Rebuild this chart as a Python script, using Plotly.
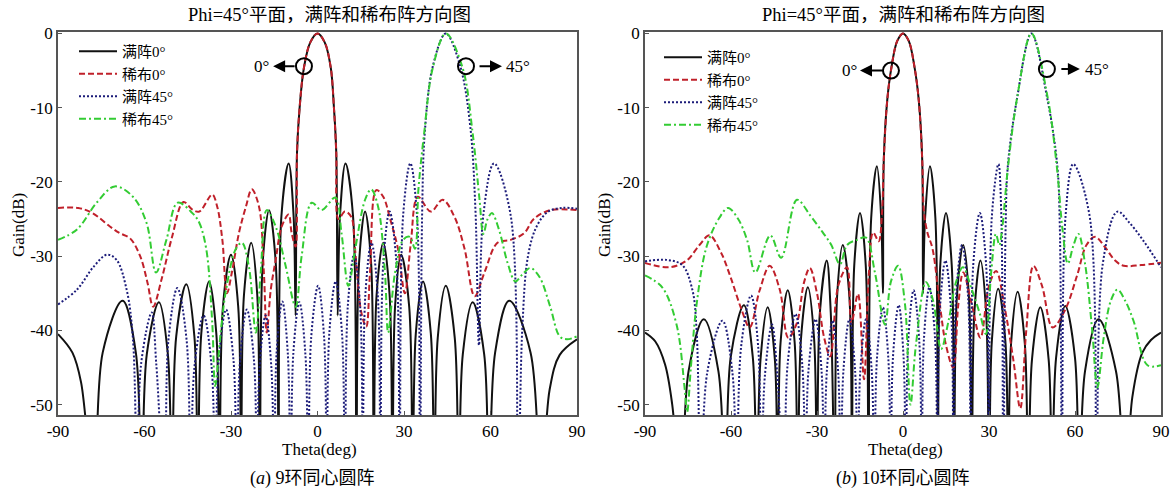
import plotly.graph_objects as go

theta_ticks = [-90, -60, -30, 0, 30, 60, 90]
theta_tick_labels = ["-90", "-60", "-30", "0", "30", "60", "90"]
gain_ticks = [0, -10, -20, -30, -40, -50]
gain_tick_labels = ["0", "-10", "-20", "-30", "-40", "-50"]
series_names = ["满阵0°", "稀布0°", "满阵45°", "稀布45°"]
panel_titles = ["Phi=45°平面，满阵和稀布阵方向图", "Phi=45°平面，满阵和稀布阵方向图"]
panel_captions = ["(<i>a</i>) 9环同心圆阵", "(<i>b</i>) 10环同心圆阵"]

# ---------- (a) 9-ring array: (theta deg, gain dB) ----------
a_full0 = [(-90, -40.5), (-85, -43), (-82, -47), (-77.5, -62), (-74.5, -43), (-67.6, -36), (-63, -43),
           (-61, -62), (-59.2, -43.2), (-55, -36.2), (-51.9, -43.2), (-50.5, -62), (-49, -40.8), (-45.5, -33.8),
           (-42.7, -40.8), (-41.5, -62), (-40.3, -40.4), (-37.6, -33.4), (-35.1, -40.4), (-34, -62), (-32.8, -36.8),
           (-30, -29.8), (-27.5, -36.8), (-26.5, -62), (-25.5, -35.2), (-23, -28.2), (-20.9, -35.2), (-20, -62),
           (-19, -30.8), (-16.8, -23.8), (-14.5, -30.8), (-13.5, -62), (-12.5, -24.5), (-10, -17.5), (-8.3, -24.5),
           (-7.6, -38), (-7.1, -16), (-6.2, -10), (-4.7, -4.6), (-2.5, -1.2), (0, 0), (2.5, -1.2), (4.6, -4.6),
           (5.7, -10), (6.5, -16), (7, -38), (7.8, -24.5), (9.7, -17.5), (12.3, -24.5), (13.5, -62), (14.4, -31),
           (16.5, -24), (18.6, -31), (19.5, -62), (20.5, -35.2), (22.8, -28.2), (25, -35.2), (26, -62), (26.9, -36.8),
           (29, -29.8), (31.8, -36.8), (33, -62), (34.1, -40.4), (36.6, -33.4), (39.3, -40.4), (40.5, -62),
           (41.7, -41), (44.5, -34), (47.6, -41), (49, -62), (50.4, -43.2), (53.8, -36.2), (57.8, -43.2),
           (59.5, -62), (61.6, -43), (66.5, -36), (73.9, -43), (77.5, -62), (80.5, -48), (84, -43.3), (90, -41.2)]

a_sparse0 = [(-90, -23.5), (-83, -23.5), (-78, -24.2), (-72, -26), (-68.6, -26.9), (-65, -27.6), (-61.5, -30),
             (-59, -33.5), (-57, -36.8), (-54, -33), (-50.5, -27.5), (-46.5, -22.7), (-43.5, -23.7), (-41, -24),
             (-36.5, -21.7), (-34.8, -23.3), (-33, -27.8), (-31.4, -35), (-29.7, -32.2), (-27.2, -26.8),
             (-24.8, -23.3), (-22.8, -21), (-20.3, -23.3), (-18.6, -32.2), (-17.6, -40.3), (-16.2, -34.5),
             (-14.5, -30.5), (-12.4, -26), (-10, -24.4), (-9, -26.8), (-7.6, -28.7), (-7.1, -16), (-6.2, -10),
             (-4.7, -4.6), (-2.5, -1.2), (0, 0), (2.5, -1.2), (4.6, -4.6), (5.7, -10), (6.5, -16), (7.3, -25),
             (9.5, -24), (11.7, -24.7), (13, -29), (15.2, -37.6), (16.9, -39.5), (18.2, -32.2), (20.4, -21.1),
             (22.8, -22), (25.2, -25), (27.9, -29), (30.3, -35), (32.3, -28.5), (34.8, -22), (39.3, -24),
             (43.4, -22.4), (47.5, -24.7), (51, -29), (54.5, -35.4), (57.9, -32.2), (62.4, -28.2), (67, -27.8),
             (71.7, -26.9), (75, -25), (80.7, -23.8), (90, -23.8)]

a_full45 = [(-90, -36.5), (-83.4, -34.5), (-77.6, -31.4), (-73, -29.8), (-69.7, -30.5), (-66.2, -34.5), (-64, -41.2),
            (-62.5, -62), (-61.2, -44.6), (-57.5, -37.6), (-55.9, -44.6), (-53, -62), (-51.7, -41.3), (-48.6, -34.3),
            (-45.4, -41.3), (-44, -62), (-42.7, -45), (-39.5, -38), (-36.7, -45), (-35.5, -62), (-34.3, -44.2),
            (-31.7, -37.2), (-29.1, -44.2), (-28, -62), (-26.9, -44.2), (-24.5, -37.2), (-22, -44.2), (-21, -62),
            (-20.1, -45), (-18, -38), (-16, -45), (-15, -62), (-14.2, -43.1), (-12.2, -36.1), (-10.3, -43.1),
            (-9.3, -62), (-8.4, -43.2), (-6.3, -36.2), (-4.2, -43.2), (-3.2, -62), (-2.2, -41), (0.2, -34),
            (2.3, -41), (3.2, -62), (4.1, -40.4), (6.3, -33.4), (8.5, -40.4), (9.5, -62), (10.5, -36.8),
            (12.7, -29.8), (14.8, -36.8), (15.7, -62), (16.6, -35.2), (18.7, -28.2), (20.9, -35.2), (21.8, -62),
            (22.8, -31), (25, -24), (27.4, -31), (28.5, -62), (29.7, -24.5), (32.2, -17.5), (34.5, -24.5),
            (35.5, -62), (36.3, -24), (37.2, -13.4), (40, -4.4), (44.5, 0), (49.5, -4.4), (53, -12.6), (54.8, -24),
            (56, -42), (57.5, -24.5), (61.2, -17.5), (67, -24.5), (69.5, -62), (71, -40), (73, -30), (76, -26),
            (80, -24), (85, -23.5), (90, -23.6)]

a_sparse45 = [(-90, -27.8), (-83.4, -26.4), (-76.6, -22.8), (-70.3, -20.6), (-64, -22), (-59.3, -25.5), (-56, -32.2),
              (-52.4, -27.8), (-48.5, -22.8), (-43.4, -24.2), (-41, -25.5), (-38.6, -29), (-36.5, -39),
              (-35.5, -47.5), (-33.5, -40), (-31.7, -34.5), (-28.3, -29), (-26.2, -28.2), (-23.8, -31.4),
              (-21.4, -40.3), (-19.7, -32.2), (-17.6, -23.8), (-14.5, -26), (-11, -31.4), (-7.6, -36.8),
              (-5.5, -30), (-2, -22.8), (1.4, -23.8), (6.2, -22.1), (8.3, -26.8), (10.7, -34), (13.1, -29),
              (16.5, -22.4), (18.6, -21), (21, -23.3), (23.4, -32.2), (24.5, -40.3), (26.9, -32.2), (29.7, -27.8),
              (32, -27.4), (33.8, -29), (35, -21), (37, -13.4), (40, -4.6), (44.5, 0), (50.3, -4.6), (53.8, -13.4),
              (56.2, -22.4), (57.5, -27), (59, -25), (60.5, -24.2), (63, -26.5), (66, -31), (68.6, -33.4),
              (71, -32.5), (73.8, -31.6), (77, -32.8), (80.7, -36.8), (84, -40.8), (86.5, -41.2), (90, -40.8)]

# ---------- (b) 10-ring array ----------
b_full0 = [(-90, -40.3), (-86.4, -41.5), (-83, -44.6), (-80.5, -50), (-77.5, -62), (-74.8, -45.5), (-69.5, -38.5),
           (-64.4, -45.5), (-62, -62), (-60.1, -43.6), (-55.5, -36.6), (-52.4, -43.6), (-51, -62), (-49.7, -43.9),
           (-47.2, -36.9), (-44.7, -43.9), (-43.7, -62), (-42.7, -41.6), (-40.2, -34.6), (-37.8, -41.6),
           (-36.7, -62), (-35.6, -41.2), (-33.2, -34.2), (-31, -41.2), (-30, -62), (-29, -37.6), (-26.6, -30.6),
           (-25.2, -37.6), (-23.8, -62), (-23, -35.5), (-21, -28.5), (-18.7, -35.5), (-17.8, -62), (-17, -31.2),
           (-15, -24.2), (-13, -31.2), (-12, -62), (-11.1, -24.9), (-9.1, -17.9), (-7.6, -24.9), (-7, -35),
           (-6.7, -17), (-5.5, -9), (-4, -4.5), (-2, -1), (0, 0), (2, -1), (4, -4.5), (5.5, -9), (6.7, -17),
           (7, -35), (7.7, -24.9), (9.4, -17.9), (11.3, -24.9), (12.2, -62), (13, -31.2), (15, -24.2), (17, -31.2),
           (17.8, -62), (18.8, -35.5), (21, -28.5), (23, -35.5), (24, -62), (24.9, -37.6), (27, -30.6),
           (29, -37.6), (30, -62), (31, -41.4), (33.2, -34.4), (35.7, -41.4), (36.7, -62), (37.7, -41.8),
           (40, -34.8), (42.5, -41.8), (43.7, -62), (45, -43.9), (47.9, -36.9), (50.8, -43.9), (52, -62),
           (53.4, -43.7), (56.6, -36.7), (60, -43.7), (61.5, -62), (63.5, -45.5), (68.2, -38.5), (74.3, -45.5),
           (77.5, -62), (80, -49), (83.5, -43), (86.5, -41.3), (90, -40.3)]

b_sparse0 = [(-90, -30.9), (-81.5, -31.5), (-75.5, -30.6), (-71, -28.5), (-67.5, -27.2), (-63.5, -29.5),
             (-60, -33), (-56.5, -37), (-53.5, -39.6), (-50, -34.6), (-46.5, -31.3), (-43, -34.5), (-40, -41),
             (-37, -39), (-34.5, -33.5), (-32.5, -31.6), (-30, -35), (-27.5, -41), (-25.4, -43.5), (-22.6, -34),
             (-19.5, -31.5), (-18, -39), (-15.7, -35.1), (-13.6, -46.6), (-12, -33), (-10.4, -26.8), (-8.5, -28),
             (-7.3, -24), (-6.7, -17), (-5.5, -9), (-4, -4.5), (-2, -1), (0, 0), (2, -1), (4, -4.5), (5.5, -9),
             (6.7, -17), (7.3, -24), (8.5, -26.8), (10.3, -29), (12.9, -36.7), (15, -42), (17.5, -45),
             (19.3, -36.5), (21, -32.2), (24, -36.5), (27, -41), (30, -34), (32.5, -32), (35.5, -37), (38.5, -44),
             (40.9, -50.5), (43, -40), (45.5, -31.3), (48.5, -34), (52.2, -39.6), (56.6, -37.2), (60.8, -32.5),
             (64, -28.5), (67, -27.4), (70.5, -28.8), (74, -30.6), (77, -31.3), (83, -31.2), (90, -30.9)]

b_full45 = [(-90, -30.7), (-82.5, -30.5), (-77, -31.2), (-73.5, -34.5), (-72, -40), (-70.5, -62), (-68.3, -45.7),
            (-63, -38.7), (-59.5, -45.7), (-58, -62), (-56.5, -42.3), (-53, -35.3), (-50.5, -42.3), (-49.5, -62),
            (-48.2, -46.2), (-45.7, -39.2), (-43.8, -46.2), (-41.5, -62), (-40.3, -44.8), (-37.5, -37.8),
            (-35.1, -44.8), (-34, -62), (-33, -45.5), (-30.5, -38.5), (-28.4, -45.5), (-27.5, -62),
            (-26.6, -45.7), (-24.6, -38.7), (-22.6, -45.7), (-21.7, -62), (-20.8, -45.5), (-18.7, -38.5),
            (-16.7, -45.5), (-15.8, -62), (-14.9, -45.5), (-12.9, -38.5), (-10.9, -45.5), (-10, -62),
            (-9.1, -43.9), (-7, -36.9), (-5.1, -43.9), (-4.3, -62), (-3.5, -43.6), (-1.5, -36.6), (0.2, -43.6),
            (1, -62), (1.8, -41.6), (3.7, -34.6), (5.7, -41.6), (6.5, -62), (7.3, -41.2), (9.2, -34.2),
            (11.2, -41.2), (12, -62), (12.8, -37.6), (14.8, -30.6), (16.8, -37.6), (17.6, -62), (18.5, -35.5),
            (20.6, -28.5), (22.7, -35.5), (23.6, -62), (24.5, -31.2), (26.8, -24.2), (29, -31.2), (30, -62),
            (31, -24.6), (33.3, -17.6), (34.3, -24.6), (35, -62), (35.8, -26), (36.6, -17.7), (39.8, -8.7),
            (44.8, 0), (50.3, -8.7), (53.8, -17.7), (54.7, -26), (55.5, -62), (56.7, -24.6), (59.4, -17.6),
            (65.1, -24.6), (67.5, -62), (69.7, -31), (74.8, -24), (79, -25.5), (84, -28), (90, -31.5)]

b_sparse45 = [(-90, -32.6), (-84, -34.2), (-79, -39.2), (-76.2, -47.7), (-75.3, -51), (-74, -45), (-72, -36.5),
              (-68.5, -28.7), (-64, -24.8), (-61, -23.5), (-57.5, -25), (-54.4, -27.8), (-51.5, -32.2),
              (-46.3, -27.2), (-42.5, -30.2), (-37, -22.4), (-32.4, -24.5), (-28, -26.8), (-25, -28.5),
              (-22, -31.1), (-19.5, -28.5), (-16, -27.8), (-12.9, -27.5), (-9.8, -32.2), (-6.3, -39.2),
              (-4.2, -33.4), (-1.7, -31.3), (0.7, -36.5), (2.6, -50), (4.5, -42), (8, -33.5), (10.5, -36),
              (13.3, -42.5), (16, -38.5), (18.5, -33.5), (20.9, -31.5), (24, -34.5), (27, -38), (28.9, -40.5),
              (30.8, -32), (32.4, -27), (33.6, -28.5), (34.5, -26.6), (36.7, -17.7), (39.8, -8.7), (44.8, 0),
              (50.5, -8.7), (53.6, -17.7), (55.7, -26.6), (57.5, -31), (59.5, -28.5), (61.2, -27), (63.5, -31),
              (66, -40), (67.8, -47.7), (70, -41), (72.5, -36), (74.8, -34.5), (77.5, -36), (80.4, -38.7),
              (85.3, -44.7), (90, -44.7)]

series_colors = ["#111111", "#c0202a", "#1c1c7a", "#33cc33"]
series_dash = ["solid", "6px,3px", "2px,2px", "7px,3px,2px,3px"]

SERIF = "Liberation Serif, Noto Sans CJK SC, serif"
W, H = 1173, 495

fig = go.Figure()
panels = [
    ([a_full0, a_sparse0, a_full45, a_sparse45], "x", "y", "legend"),
    ([b_full0, b_sparse0, b_full45, b_sparse45], "x2", "y2", "legend2"),
]
for series, xa, ya, lg in panels:
    for name, pts, col, dash in zip(series_names, series, series_colors, series_dash):
        fig.add_trace(go.Scatter(
            x=[p[0] for p in pts], y=[p[1] for p in pts], name=name, mode="lines",
            line=dict(color=col, width=2, dash=dash, shape="spline", smoothing=1),
            xaxis=xa, yaxis=ya, legend=lg, cliponaxis=True))

# pixel layout
y_top, y_bot = 32, 415
dom_y = [1 - y_bot / H, 1 - y_top / H]
ax_common = dict(showline=True, mirror=True, linecolor="#555555", linewidth=1.5, showgrid=False,
                 zeroline=False, ticks="inside", ticklen=4, tickcolor="#555555", automargin=False,
                 tickfont=dict(family=SERIF, size=17, color="black"))
fig.update_layout(
    width=W, height=H, margin=dict(l=0, r=0, t=0, b=0, autoexpand=False),
    paper_bgcolor="white", plot_bgcolor="white",
    xaxis=dict(domain=[58 / W, 577 / W], range=[-90, 90], tickvals=theta_ticks, ticktext=theta_tick_labels,
               anchor="y", **ax_common),
    yaxis=dict(domain=dom_y, range=[-51.4, 0.2], tickvals=gain_ticks, ticktext=gain_tick_labels,
               anchor="x", **ax_common),
    xaxis2=dict(domain=[645 / W, 1161 / W], range=[-90, 90], tickvals=theta_ticks, ticktext=theta_tick_labels,
                anchor="y2", **ax_common),
    yaxis2=dict(domain=dom_y, range=[-51.4, 0.2], tickvals=gain_ticks, ticktext=gain_tick_labels,
                anchor="x2", **ax_common),
    legend=dict(x=74 / W, y=1 - 35 / H, xanchor="left", yanchor="top", bgcolor="rgba(0,0,0,0)",
                font=dict(family=SERIF, size=15, color="black"), itemwidth=38, tracegroupgap=0),
    legend2=dict(x=659 / W, y=1 - 41 / H, xanchor="left", yanchor="top", bgcolor="rgba(0,0,0,0)",
                 font=dict(family=SERIF, size=15, color="black"), itemwidth=38, tracegroupgap=0),
    showlegend=True,
)

ann = []
for i in range(2):
    ann.append(dict(text=panel_titles[i], x=[329, 903][i] / W, y=1 - 15 / H, xref="paper", yref="paper",
                    xanchor="center", yanchor="middle", showarrow=False,
                    font=dict(family=SERIF, size=18.5, color="black")))
    ann.append(dict(text="Theta(deg)", x=[319, 905][i] / W, y=1 - 449 / H, xref="paper", yref="paper",
                    xanchor="center", yanchor="middle", showarrow=False,
                    font=dict(family=SERIF, size=17, color="black")))
    ann.append(dict(text=panel_captions[i], x=[312, 903][i] / W, y=1 - 478 / H, xref="paper", yref="paper",
                    xanchor="center", yanchor="middle", showarrow=False,
                    font=dict(family=SERIF, size=18, color="black")))
    ann.append(dict(text="Gain(dB)", x=[18, 604][i] / W, y=1 - 225 / H, xref="paper", yref="paper",
                    xanchor="center", yanchor="middle", showarrow=False, textangle=-90,
                    font=dict(family=SERIF, size=17, color="black")))

# beam markers: circle + arrow + label, in data coordinates
markers = [
    ("x", "y", -4.7, -4.4, -15.4, 23, -19.5, "0°"),
    ("x", "y", 51.5, -4.4, 64.0, -24, 69.6, "45°"),
    ("x2", "y2", -4.2, -5.0, -15.0, 24, -18.8, "0°"),
    ("x2", "y2", 50.2, -4.8, 61.7, -20, 67.8, "45°"),
]
shapes = []
for xa, ya, cx, cy, hx, tail, tx, label in markers:
    shapes.append(dict(type="circle", xref=xa, yref=ya, xsizemode="pixel", ysizemode="pixel",
                       xanchor=cx, yanchor=cy, x0=-8, x1=8, y0=-8, y1=8,
                       line=dict(color="black", width=2)))
    ann.append(dict(text="", x=hx, y=cy, xref=xa, yref=ya, ax=tail, ay=0, showarrow=True,
                    arrowhead=2, arrowsize=1.2, arrowwidth=2, arrowcolor="black"))
    ann.append(dict(text=label, x=tx, y=cy, xref=xa, yref=ya, xanchor="center", yanchor="middle",
                    showarrow=False, font=dict(family=SERIF, size=17, color="black")))

fig.update_layout(annotations=ann, shapes=shapes)
fig.write_html("out.html")
